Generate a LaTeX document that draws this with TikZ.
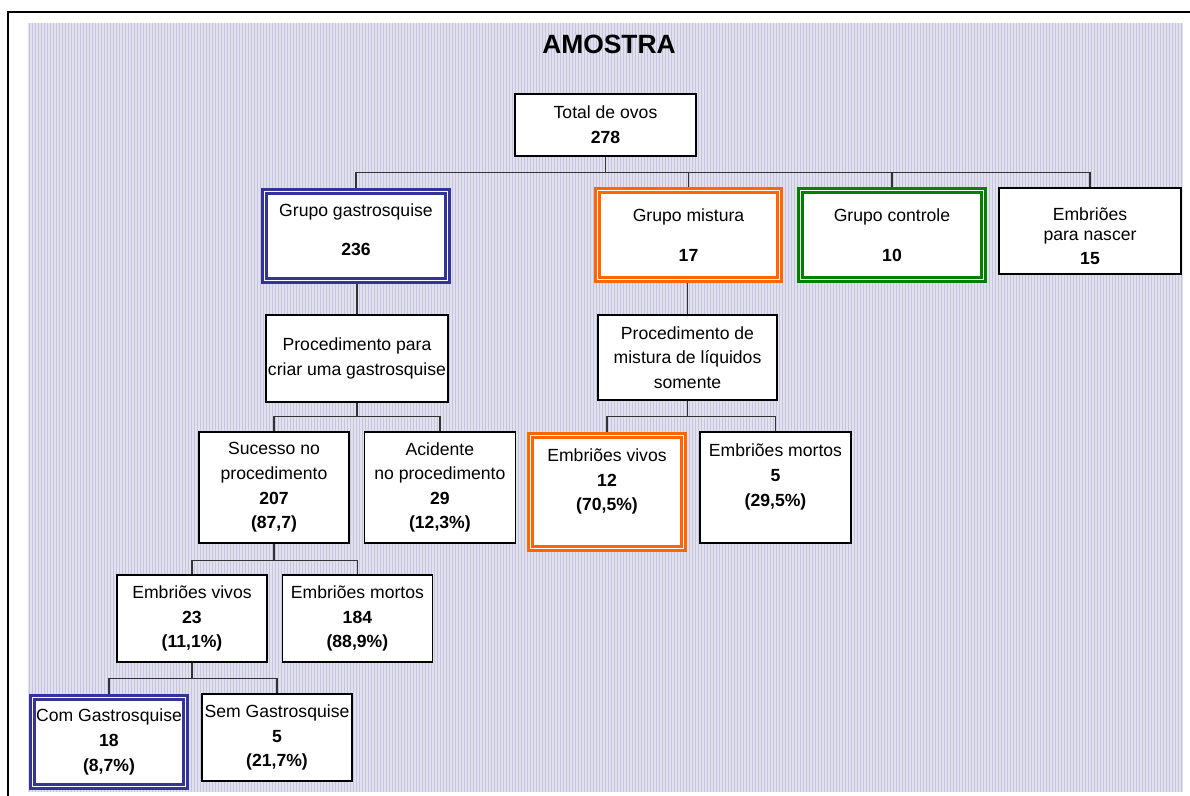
\documentclass[tikz,border=0pt]{standalone}
\usepackage{fontspec}
\setmainfont{Liberation Sans}
\usetikzlibrary{positioning,backgrounds}
\definecolor{lineDark}{RGB}{50,50,50}
\definecolor{bgLilac}{RGB}{226,226,238}
\definecolor{stripeLilac}{RGB}{196,196,222}
\definecolor{gastroBlue}{RGB}{51,51,153}
\definecolor{mixOrange}{RGB}{255,102,0}
\definecolor{ctrlGreen}{RGB}{0,128,0}

\begin{document}
\begin{tikzpicture}[
  x=0.5pt,y=-0.5pt,
  font=\fontsize{8.8}{12.3}\selectfont,
  box/.style={draw=black,fill=white,line width=0.7pt,align=center,
              inner xsep=1pt,inner ysep=1pt,minimum width=75pt,
              minimum height=43.5pt},
  grpbox/.style={box,line width=1.4pt,double=white,double distance=0.7pt,
                 minimum width=91.6pt,minimum height=44.6pt},
  link/.style={draw=lineDark,line width=0.8pt},
  titletext/.style={font=\bfseries\fontsize{13.2}{15}\selectfont}
]
\useasboundingbox (0,0) rectangle (1190,796);

% ==========  frame and striped background  ==========
\draw[line width=1pt] (1190,12) -- (8,12) -- (8,796);
\begin{scope}[on background layer]
  \fill[bgLilac] (28,23) rectangle (1183,792);
  \foreach \x in {29,32,...,1182}
    \draw[stripeLilac,line width=0.5pt] (\x,23) -- (\x,792);
\end{scope}

\node[titletext] (titulo) at (609,44) {AMOSTRA};

% ==========  ROW 1: total and the four groups  ==========
\node[box,minimum width=90.5pt,minimum height=31pt] (total) at (605.5,125)
  {Total de ovos\\\textbf{278}};

% gastro text sits a little higher than in the other groups
\node[grpbox,draw=gastroBlue] (gastro) at (356,236)
  {Grupo gastrosquise\\[7.5pt]\textbf{236}\\[-6pt]\mbox{}};
\node[grpbox,draw=mixOrange,minimum width=91.1pt] (mistura) at (688.5,235)
  {Grupo mistura\\[7.5pt]\textbf{17}};
\node[grpbox,draw=ctrlGreen] (controle) at (892,235)
  {Grupo controle\\[7.5pt]\textbf{10}};
\node[box,minimum width=91pt,minimum height=43pt] (nascer) at (1090,231)
  {\rule{0pt}{11.5pt}Embriões\\[-2pt]para nascer\\[-0.5pt]\textbf{15}};

% ==========  ROW 2: procedures  ==========
\node[box,minimum width=91pt] (proc1) at (357,358.5)
  {Procedimento para\\criar uma gastrosquise};
\node[box,minimum width=89.5pt,minimum height=42.5pt] (proc2) at (687.5,357.5)
  {Procedimento de\\mistura de líquidos\\somente};

% ==========  ROW 3: outcomes of the procedures  ==========
\node[box,minimum height=55.5pt] (sucesso) at (274,487.5)
  {Sucesso no\\procedimento\\\textbf{207}\\\textbf{(87,7)}};
\node[box,minimum width=75.5pt,minimum height=55.5pt,right=7pt of sucesso] (acidente)
  {Acidente\\no procedimento\\\textbf{29}\\\textbf{(12,3\%)}};

% mixture branch: text sits in the upper part of the box
\node[grpbox,draw=mixOrange,minimum width=76.6pt,minimum height=56.6pt] (mvivos) at (607,492)
  {Embriões vivos\\\textbf{12}\\\textbf{(70,5\%)}\\\mbox{}};
\node[box,minimum width=75.5pt,minimum height=55.5pt] (mmortos) at (775.5,487.5)
  {Embriões mortos\\\textbf{5}\\\textbf{(29,5\%)}\\\mbox{}};

% ==========  ROW 4 and 5: successful procedure  ==========
\node[box] (gvivos) at (192,618.5)
  {Embriões vivos\\\textbf{23}\\\textbf{(11,1\%)}};
\node[box,right=7pt of gvivos] (gmortos)
  {Embriões mortos\\\textbf{184}\\\textbf{(88,9\%)}};

\node[grpbox,draw=gastroBlue,minimum width=76.6pt] (comg) at (109,742)
  {Com Gastrosquise\\\textbf{18}\\\textbf{(8,7\%)}};
\node[box] (semg) at (277,737.5)
  {Sem Gastrosquise\\\textbf{5}\\\textbf{(21,7\%)}};

% ==========  connectors (behind the boxes)  ==========
\begin{scope}[on background layer]
  \foreach \c in {gastro,mistura,controle,nascer}
    \draw[link] (total.south) -- ++(0,16) -| (\c.north);
  \draw[link] (proc1.north) -- (proc1.north |- gastro.south);
  \draw[link] (proc2.north) -- (proc2.north |- mistura.south);
  \foreach \c in {sucesso,acidente}
    \draw[link] (proc1.south) -- ++(0,14) -| (\c.north);
  \foreach \c in {mvivos,mmortos}
    \draw[link] (proc2.south) -- ++(0,16) -| (\c.north);
  \foreach \c in {gvivos,gmortos}
    \draw[link] (sucesso.south) -- ++(0,17) -| (\c.north);
  \foreach \c in {comg,semg}
    \draw[link] (gvivos.south) -- ++(0,16) -| (\c.north);
\end{scope}

\end{tikzpicture}
\end{document}
